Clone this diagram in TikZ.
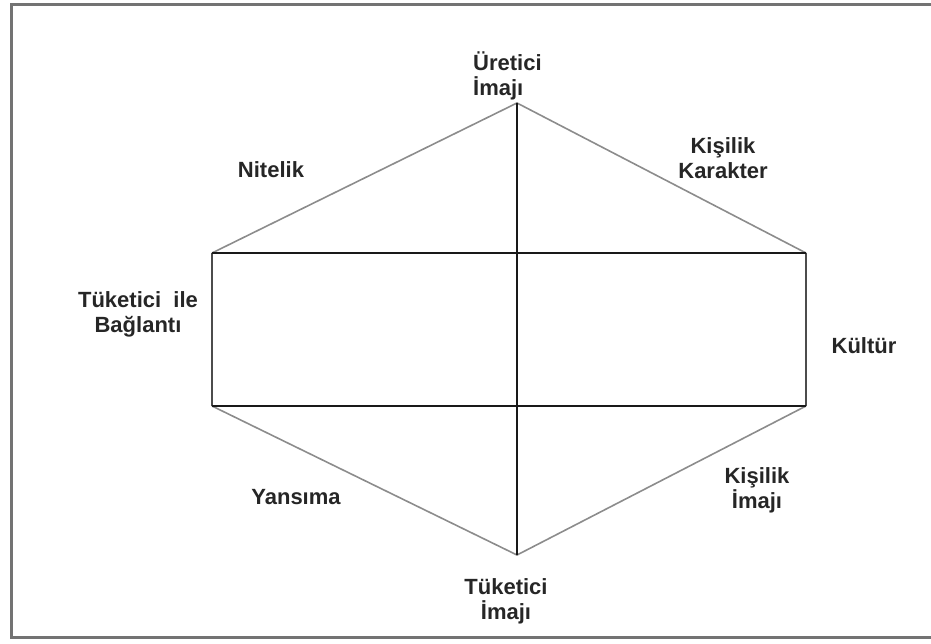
\documentclass[tikz,border=0pt]{standalone}
\usepackage{fontspec}
\setmainfont{Liberation Sans}
\begin{document}
\begin{tikzpicture}[x=1pt,y=-1pt,
  edge/.style={draw=black!45,line width=1.6pt},
  axis/.style={draw=black!90,line width=2.2pt},
  side/.style={draw=black!70,line width=2.2pt},
  frame/.style={draw=black!55,line width=3pt},
  lbl/.style={font=\fontsize{22}{25}\selectfont\bfseries,text=black!85,align=center,inner sep=0pt}]
\useasboundingbox (0,0) rectangle (931,644);
% outer frame, open on the right
\draw[frame] (931,5) -- (11,5) -- (11,637) -- (931,637);
% hexagon corners
\coordinate (T) at (517,103);
\coordinate (B) at (517,555);
\coordinate (UL) at (212,253);
\coordinate (UR) at (806,253);
\coordinate (LL) at (212,406);
\coordinate (LR) at (806,406);
% slanted edges
\draw[edge] (UL) -- (T) -- (UR);
\draw[edge] (LL) -- (B) -- (LR);
% rectangle sides and axes
\draw[side] (UL) -- (LL);
\draw[side] (UR) -- (LR);
\draw[axis] (UL) -- (UR);
\draw[axis] (LL) -- (LR);
\draw[axis] (T) -- (B);
% labels
\node[lbl,align=left,anchor=west] (uretici) at (473,76) {Üretici\\İmajı};
\node[lbl] (nitelik) at (271,170) {Nitelik};
\node[lbl] (kisilik) at (723,158) {Kişilik\\Karakter};
\node[lbl] (baglanti) at (138,314) {Tüketici~ ile\\Bağlantı};
\node[lbl] (kultur) at (864,346) {Kültür};
\node[lbl] (yansima) at (296,497) {Yansıma};
\node[lbl] (kimaji) at (757,490) {Kişilik\\İmajı};
\node[lbl] (timaji) at (506,601) {Tüketici\\İmajı};
\end{tikzpicture}
\end{document}
